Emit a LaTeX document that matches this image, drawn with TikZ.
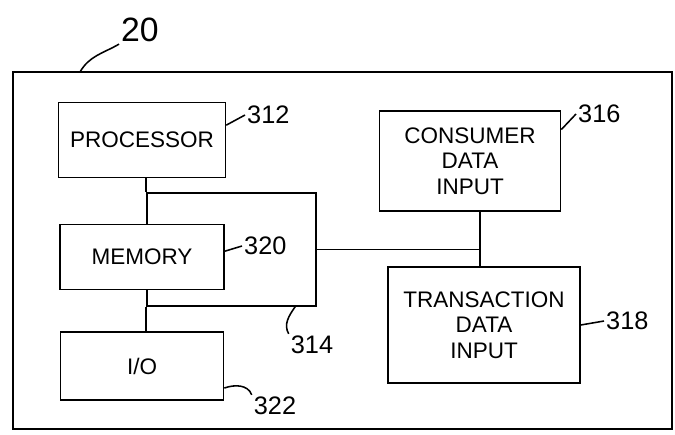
\documentclass[tikz,border=0pt]{standalone}
\usepackage{fontspec}
\setmainfont{Liberation Sans}
\begin{document}
\begin{tikzpicture}[x=0.025cm, y=-0.025cm, line width=1.1pt,
  font=\fontsize{16}{18}\selectfont,
  kutu/.style={draw, fill=white, align=center, inner sep=2pt},
  etiket/.style={font=\fontsize{18}{20}\selectfont, inner sep=1pt}]
  \useasboundingbox (0,0) rectangle (675,434);

  % --- cihaz 20 ---
  \node[draw, minimum width=16.475cm, minimum height=8.925cm] (dev) at (342.5,250.5) {};
  \node[etiket, font=\fontsize{24}{26}\selectfont] (l20) at (140,30) {20};
  \coordinate (d20) at (80,72);
  \draw (l20.south west) to[out=210, in=60] (d20);

  % veri yolu 314
  \node[draw, minimum width=4.225cm, minimum height=2.825cm] (bus) at (231.5,249.5) {};

  % kutular
  \node[kutu, minimum width=4.175cm, minimum height=1.875cm] (proc) at (142,140) {PROCESSOR};
  \node[kutu, minimum width=4.1cm, minimum height=1.625cm] (mem) at (142,257) {MEMORY};
  \node[kutu, minimum width=4.075cm, minimum height=1.7cm] (io) at (142,366) {I/O};
  \node[kutu, minimum width=4.525cm, minimum height=2.5cm] (cons) at (470,161)
    {CONSUMER\\DATA\\INPUT};
  \node[kutu, minimum width=4.8cm, minimum height=2.9cm] (trans) at (484,325)
    {TRANSACTION\\DATA\\INPUT};

  % baglantilar
  \draw (bus.north west |- proc.south) -- (bus.north west);
  \draw (bus.south west) -- (bus.south west |- io.north);
  \coordinate (jx) at (480,0);
  \coordinate (j) at (bus.east -| jx);
  \draw (bus.east) -- (j);
  \draw (cons.south -| j) -- (trans.north -| j);

  % etiketler
  \foreach \kutu/\aci/\no/\x/\y in {proc/10/312/245/115, mem/4/320/242/246,
                                   cons/19/316/576/114, trans/0/318/604/321} {
    \node[etiket, right] (l\no) at (\x,\y) {\no};
    \draw (\kutu.\aci) -- (l\no.west);
  }
  \node[etiket] (l314) at (312,345) {314};
  \draw (bus.-42) to[out=235, in=120] (l314.north west);
  \node[etiket] (l322) at (275,406) {322};
  \draw (io.-15) to[out=20, in=110] (l322.north west);
\end{tikzpicture}
\end{document}
